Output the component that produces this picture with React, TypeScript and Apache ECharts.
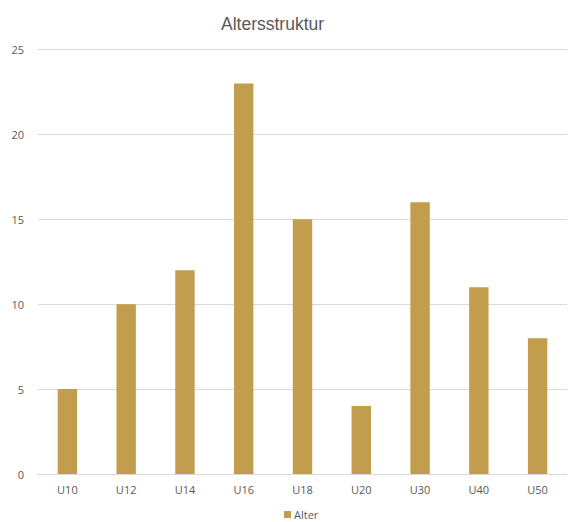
import React, { useEffect, useRef } from "react";
import * as echarts from "echarts";

const categories = ["U10", "U12", "U14", "U16", "U18", "U20", "U30", "U40", "U50"];
const alterValues = [5, 10, 12, 23, 15, 4, 16, 11, 8];
const seriesName = "Alter";
const titleText = "Altersstruktur";

export default function App() {
  const ref = useRef<HTMLDivElement>(null);
  useEffect(() => {
    if (!ref.current) return;
    const chart = echarts.init(ref.current, null, { renderer: "svg" });
    chart.setOption({
      animation: false,
      backgroundColor: "#ffffff",
      title: {
        text: titleText,
        left: 216,
        top: 10,
        textStyle: {
          fontFamily: "Liberation Sans, Arial, sans-serif",
          fontSize: 17.5,
          fontWeight: "normal",
          color: "#595959",
        },
      },
      legend: {
        data: [seriesName],
        top: 509,
        left: 284,
        padding: 0,
        itemWidth: 7,
        itemHeight: 7,
        icon: "rect",
        itemGap: 4,
        textStyle: { fontFamily: "Open Sans, Noto Sans, sans-serif", fontSize: 11, color: "#595959", padding: [0, 0, 0, -2] },
      },
      grid: { left: 38, right: 5, top: 49.5, bottom: 48, containLabel: false },
      xAxis: {
        type: "category",
        data: categories,
        axisLine: { lineStyle: { color: "#d9d9d9", width: 1 } },
        axisTick: { show: false },
        axisLabel: { fontFamily: "Open Sans, Noto Sans, sans-serif", fontSize: 11, color: "#595959", margin: 10 },
      },
      yAxis: {
        type: "value",
        min: 0,
        max: 25,
        interval: 5,
        axisLine: { show: false },
        axisTick: { show: false },
        splitLine: { lineStyle: { color: "#d9d9d9", width: 1 } },
        axisLabel: { fontFamily: "Open Sans, Noto Sans, sans-serif", fontSize: 11, color: "#595959", margin: 14 },
      },
      series: [
        {
          name: seriesName,
          type: "bar",
          data: alterValues,
          barWidth: "33%",
          itemStyle: { color: "#C19D4D" },
        },
      ],
    });
    return () => chart.dispose();
  }, []);
  return <div ref={ref} style={{ width: 572, height: 522, position: "absolute", left: 0, top: 0 }} />;
}
